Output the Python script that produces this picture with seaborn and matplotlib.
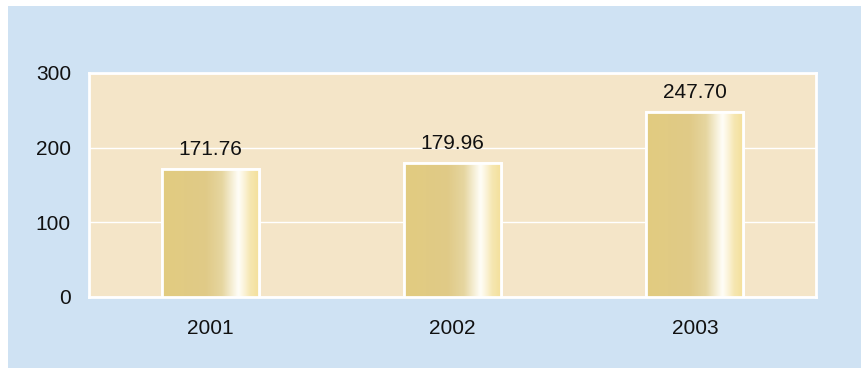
import numpy as np
import pandas as pd
import matplotlib
matplotlib.use("Agg")
import matplotlib.pyplot as plt
from matplotlib.colors import LinearSegmentedColormap
from matplotlib.patches import Rectangle
import seaborn as sns

years = ["2001", "2002", "2003"]
values = [171.76, 179.96, 247.70]
value_labels = ["171.76", "179.96", "247.70"]
y_ticks = [0, 100, 200, 300]

sns.set_theme(style="white")
plt.rcParams["font.family"] = ["Liberation Sans", "DejaVu Sans"]

panel_blue = "#cfe2f3"
plot_cream = "#f4e5c8"
FS = 15

fig = plt.figure(figsize=(8.61, 3.68), dpi=100, facecolor="white")
fig.patches.append(Rectangle((8 / 861, 0), 1, 1 - 6 / 368, transform=fig.transFigure,
                             facecolor=panel_blue, edgecolor="none", zorder=-10))
ax = fig.add_axes([89 / 861, 1 - 297 / 368, (816 - 89) / 861, (297 - 73) / 368])
ax.set_facecolor(plot_cream)

df = pd.DataFrame({"year": years, "value": values})
sns.barplot(data=df, x="year", y="value", ax=ax, width=0.4, color="#e2cc82",
            edgecolor="white", linewidth=2, zorder=3)

# metallic gold gradient clipped to each bar
gold = LinearSegmentedColormap.from_list("gold", [
    (0.00, (226/255, 204/255, 128/255)),
    (0.45, (224/255, 202/255, 135/255)),
    (0.62, (230/255, 214/255, 160/255)),
    (0.72, (245/255, 238/255, 212/255)),
    (0.79, (255/255, 254/255, 248/255)),
    (0.84, (252/255, 245/255, 222/255)),
    (0.91, (246/255, 231/255, 178/255)),
    (1.00, (244/255, 224/255, 155/255)),
])
grad = np.linspace(0, 1, 256).reshape(1, -1)
for patch in list(ax.patches):
    x0, y0 = patch.get_x(), patch.get_y()
    w, h = patch.get_width(), patch.get_height()
    im = ax.imshow(grad, cmap=gold, aspect="auto", extent=(x0, x0 + w, y0, y0 + h),
                   zorder=3.5, interpolation="bicubic")
    im.set_clip_path(patch)
    # white outline on top of the gradient
    ax.add_patch(Rectangle((x0, y0), w, h, facecolor="none", edgecolor="white",
                           linewidth=2, zorder=4))

for i, (v, lab) in enumerate(zip(values, value_labels)):
    ax.annotate(lab, (i, v), xytext=(0, 7), textcoords="offset points",
                ha="center", va="bottom", fontsize=FS, color="#111111")

ax.set_xlim(-0.5, 2.5)
ax.set_ylim(0, 300)
ax.set_yticks(y_ticks)
ax.yaxis.grid(True, color="white", linewidth=1, zorder=0)
ax.set_axisbelow(True)
ax.set_xlabel("")
ax.set_ylabel("")

for s in ax.spines.values():
    s.set_visible(True)
    s.set_color("white")
    s.set_linewidth(2)

ax.tick_params(axis="y", which="major", direction="out", length=7, width=1,
               color="white", labelsize=FS, labelcolor="#111111", pad=6)
ax.tick_params(axis="x", which="major", length=0, labelsize=FS,
               labelcolor="#111111", pad=16)
ax.set_xticks([-0.5, 2.5], minor=True)
ax.tick_params(axis="x", which="minor", direction="out", length=6, width=1.5, color="white")

fig.savefig("out.png", dpi=100, facecolor=fig.get_facecolor())
